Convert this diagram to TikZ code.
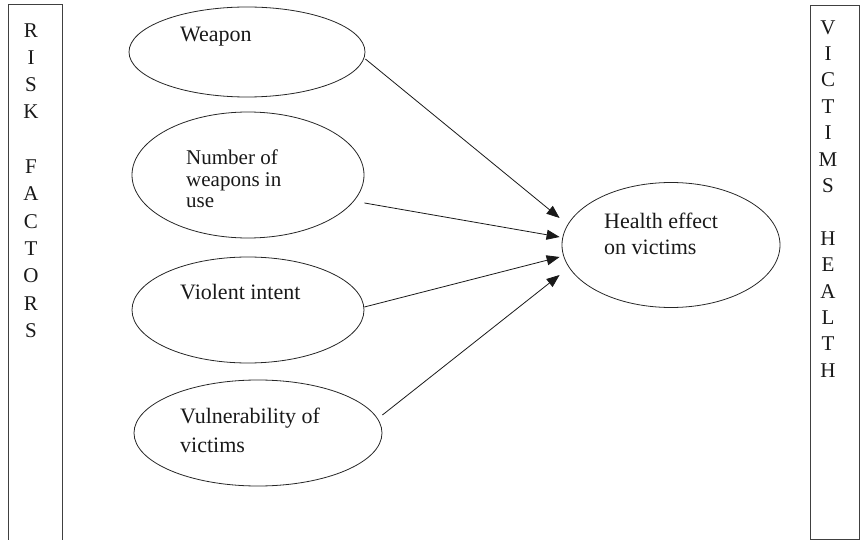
\documentclass[tikz,border=0pt]{standalone}
\usepackage{fontspec}
\setmainfont{Liberation Serif}
\usetikzlibrary{shapes.geometric,arrows.meta}
\begin{document}
\begin{tikzpicture}[x=1pt,y=-1pt,
  oval/.style={ellipse, draw=black!85, line width=0.8pt, inner sep=0pt},
  lbl/.style={anchor=base west, inner sep=0pt, align=left, text=black!90},
  barletters/.style={anchor=base, inner sep=0pt, align=center, text=black!90},
  conn/.style={draw=black!90, line width=0.8pt, -{Triangle[length=13pt,width=10pt]}},
  barline/.style={draw=black!75, line width=1pt}]
\useasboundingbox (0,0) rectangle (860,540);
% side bars
\draw[barline] (8,541) -- (8,5) -- (62,5) -- (62,541);
\draw[barline] (810,6) rectangle (859,539);
% multi-line nodes: base anchor = baseline of last line
\node[barletters, font=\fontsize{21}{27.3}\selectfont] (riskfactors) at (31,337.3)
  {R\\I\\S\\K\\~\\F\\A\\C\\T\\O\\R\\S};
\node[barletters, font=\fontsize{21}{26.4}\selectfont] (victimshealth) at (828,377.2)
  {V\\I\\C\\T\\I\\M\\S\\~\\H\\E\\A\\L\\T\\H};
% ellipses
\node[oval, minimum width=236pt, minimum height=90pt] (weapon) at (247,52) {};
\node[oval, minimum width=232pt, minimum height=126pt] (number) at (248,175) {};
\node[oval, minimum width=232pt, minimum height=106pt] (violent) at (248,310) {};
\node[oval, minimum width=248pt, minimum height=106pt] (vuln) at (258,433) {};
\node[oval, minimum width=218pt, minimum height=125pt] (health) at (671,245) {};
% labels
\node[lbl, font=\fontsize{22}{26}\selectfont] (weaponlbl) at (180,42) {Weapon};
\node[lbl, font=\fontsize{21}{21.5}\selectfont] (numberlbl) at (186,208) {Number of\\weapons in\\use};
\node[lbl, font=\fontsize{22}{26}\selectfont] (violentlbl) at (180,300) {Violent intent};
\node[lbl, font=\fontsize{22}{29}\selectfont] (vulnlbl) at (180,452) {Vulnerability of\\victims};
\node[lbl, font=\fontsize{22}{27}\selectfont] (healthlbl) at (604,255) {Health effect\\on victims};
% connectors
\draw[conn] ([yshift=-7pt]weapon.east) -- ([xshift=-2pt,yshift=27pt]health.west);
\draw[conn] ([xshift=12pt]number.-15) -- ([xshift=-2pt,yshift=8pt]health.west);
\draw[conn] ([yshift=3pt]violent.east) -- ([xshift=-2pt,yshift=-12pt]health.west);
\draw[conn] ([yshift=18pt]vuln.east) -- ([xshift=-2pt,yshift=-30pt]health.west);
\end{tikzpicture}
\end{document}
